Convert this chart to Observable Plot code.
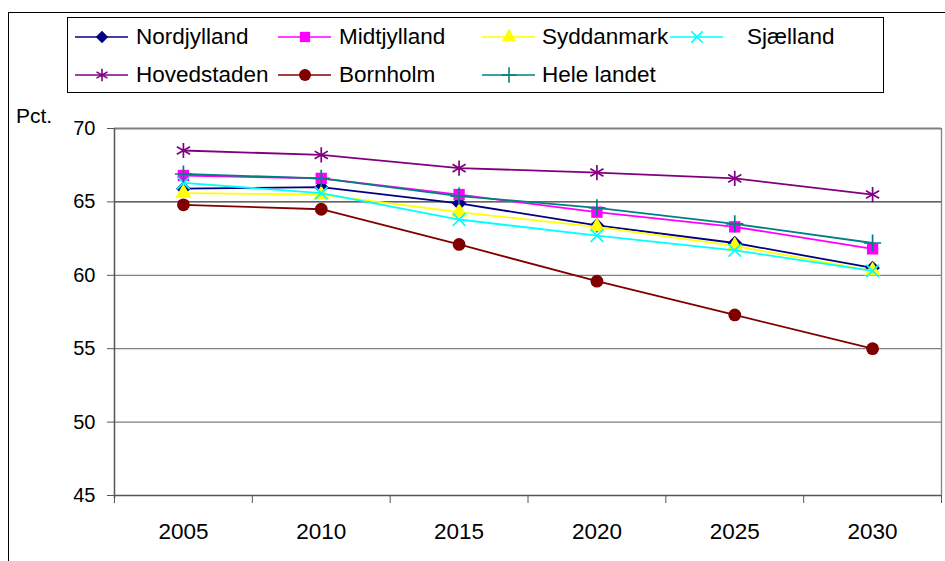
<!DOCTYPE html>
<html>
<head>
<meta charset="utf-8">
<script src="https://cdn.jsdelivr.net/npm/d3@7"></script>
<script src="https://cdn.jsdelivr.net/npm/@observablehq/plot@0.6"></script>
<style>
  html, body { margin: 0; padding: 0; background: #fff; }
  body { font-family: Arial, "Liberation Sans", sans-serif; }
  #wrap { position: relative; width: 945px; height: 561px; overflow: hidden; background: #fff; }
  #frame { position: absolute; left: 8px; top: 12px; width: 960px; height: 600px;
           border-left: 1.5px solid #000; border-top: 1.5px solid #000; pointer-events: none; }
  #chart { position: absolute; left: 0; top: 0; }
  #legend { position: absolute; left: 67px; top: 17px; width: 817px; height: 76px;
            border: 1px solid #000; background: #fff; box-sizing: border-box; }
  .item { position: absolute; height: 26px; }
  .item svg { position: absolute; left: 0; top: 0; overflow: visible; }
  .item span { position: absolute; top: 0; font-size: 22.5px; color: #000; white-space: nowrap; line-height: 26px; }
  #ylab { position: absolute; left: 16px; top: 104px; font-size: 21px; color: #000; }
</style>
</head>
<body>
<div id="wrap">
  <div id="chart"></div>
  <div id="frame"></div>
  <div id="legend"></div>
  <div id="ylab">Pct.</div>
</div>
<script>
// ---- data ----
const years = [2005, 2010, 2015, 2020, 2025, 2030];
const yTicks = [45, 50, 55, 60, 65, 70];
const regions = ["Nordjylland", "Midtjylland", "Syddanmark", "Sjælland", "Hovedstaden", "Bornholm", "Hele landet"];
const nordjylland = [65.9, 66.0, 64.9, 63.4, 62.2, 60.5];
const midtjylland = [66.8, 66.6, 65.5, 64.3, 63.3, 61.8];
const syddanmark  = [65.6, 65.5, 64.3, 63.3, 62.0, 60.3];
const sjaelland   = [66.3, 65.6, 63.8, 62.7, 61.7, 60.3];
const hovedstaden = [68.5, 68.2, 67.3, 67.0, 66.6, 65.5];
const bornholm    = [64.8, 64.5, 62.1, 59.6, 57.3, 55.0];
const heleLandet  = [66.9, 66.6, 65.4, 64.6, 63.5, 62.2];
const seriesValues = [nordjylland, midtjylland, syddanmark, sjaelland, hovedstaden, bornholm, heleLandet];

// ---- styles ----
const styles = [
  {color: "#000080", symbol: "diamond2", filled: true,  r: 6.6, lr: 5.6},
  {color: "#FF00FF", symbol: "square",   filled: true,  r: 6.4, lr: 5.8},
  {color: "#FFFF00", symbol: "triangle", filled: true,  r: 6.0, lr: 5.4},
  {color: "#00FFFF", symbol: "times",    filled: false, r: 5.8, lr: 5.2},
  {color: "#800080", symbol: "asterisk", filled: false, r: 7.2, lr: 6.0},
  {color: "#800000", symbol: "circle",   filled: true,  r: 6.4, lr: 6.0},
  {color: "#008080", symbol: "plus",     filled: false, r: 5.6, lr: 5.0}
];

const data = regions.map((name, k) => years.map((yr, i) => ({region: name, year: yr, value: seriesValues[k][i]})));
const bounds = years.map(y => y - 2.5).concat([years[years.length - 1] + 2.5]);

const seriesMarks = regions.flatMap((name, k) => {
  const s = styles[k];
  return [
    Plot.line(data[k], {x: "year", y: "value", stroke: s.color, strokeWidth: 1.8}),
    Plot.dot(data[k], s.filled
      ? {x: "year", y: "value", symbol: () => s.symbol, fill: s.color, stroke: "none", r: s.r}
      : {x: "year", y: "value", symbol: () => s.symbol, stroke: s.color, fill: "none", strokeWidth: 1.7, r: s.r})
  ];
});

const chart = Plot.plot({
  width: 945,
  height: 561,
  marginLeft: 114,
  marginRight: 4,
  marginTop: 128,
  marginBottom: 66,
  style: {fontFamily: "Arial, 'Liberation Sans', sans-serif", fontSize: "21px", color: "#000", background: "#fff", overflow: "visible"},
  x: {type: "linear", domain: [bounds[0], bounds[bounds.length - 1]]},
  y: {domain: [45, 70]},
  symbol: {type: "identity"},
  marks: [
    Plot.ruleY([50, 55, 60], {stroke: "#808080", strokeWidth: 1.3}),
    Plot.ruleY([65], {stroke: "#000", strokeWidth: 1}),
    Plot.ruleY([70], {stroke: "#808080", strokeWidth: 1.8}),
    Plot.ruleX([bounds[bounds.length - 1]], {y1: 45, y2: 70, stroke: "#808080", strokeWidth: 1.3}),
    Plot.axisY({ticks: yTicks, tickSize: 7, tickPadding: 12, label: null, stroke: "#555", fontSize: 20, tickFormat: d => String(d)}),
    Plot.axisX({ticks: bounds, tickSize: 8, tickFormat: () => "", label: null, stroke: "#555"}),
    Plot.axisX({ticks: years, tickSize: 0, tickPadding: 28, label: null, fontSize: 22.5, tickFormat: d => String(d)}),
    Plot.ruleX([bounds[0]], {y1: 44.8, y2: 70, stroke: "#555", strokeWidth: 1.5}),
    Plot.ruleY([45], {stroke: "#555", strokeWidth: 1.5}),
    ...seriesMarks
  ]
});
document.getElementById("chart").appendChild(chart);

// ---- legend ----
const legend = document.getElementById("legend");
const legPos = [
  {x: 7,   y: 6}, {x: 210, y: 6}, {x: 414, y: 6}, {x: 602, y: 6},
  {x: 7,   y: 44}, {x: 210, y: 44}, {x: 414, y: 44}
];
const textOff = [61, 61, 60, 77, 61, 61, 60];
const symMap = {diamond2: d3.symbolDiamond2, square: d3.symbolSquare, triangle: d3.symbolTriangle,
  times: d3.symbolTimes, asterisk: d3.symbolAsterisk, circle: d3.symbolCircle, plus: d3.symbolPlus};
regions.forEach((name, k) => {
  const s = styles[k];
  const div = document.createElement("div");
  div.className = "item";
  div.style.left = legPos[k].x + "px";
  div.style.top = legPos[k].y + "px";
  const svg = d3.create("svg").attr("width", 56).attr("height", 26);
  svg.append("line").attr("x1", 0).attr("x2", 53).attr("y1", 13).attr("y2", 13)
    .attr("stroke", s.color).attr("stroke-width", 1.7);
  const path = d3.symbol(symMap[s.symbol], s.lr * s.lr * Math.PI)();
  const p = svg.append("path").attr("d", path).attr("transform", "translate(27,13)");
  if (s.filled) p.attr("fill", s.color);
  else p.attr("fill", "none").attr("stroke", s.color).attr("stroke-width", 1.6);
  div.appendChild(svg.node());
  const span = document.createElement("span");
  span.style.left = textOff[k] + "px";
  span.textContent = name;
  div.appendChild(span);
  legend.appendChild(div);
});
</script>
</body>
</html>
